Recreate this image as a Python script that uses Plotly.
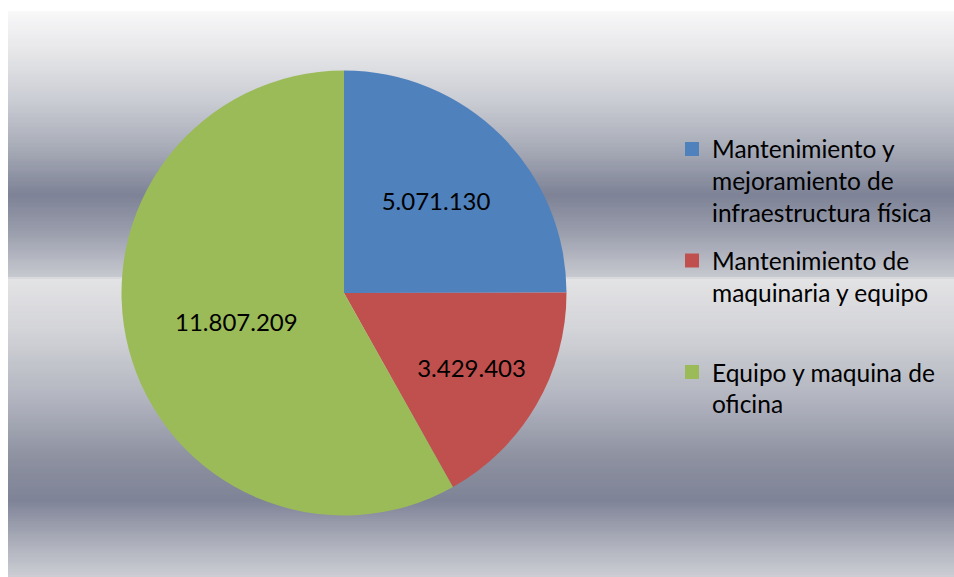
import plotly.graph_objects as go

# ---- data ----
categories = [
    "Mantenimiento y<br>mejoramiento de<br>infraestructura física",
    "Mantenimiento de<br>maquinaria y equipo<br> ",
    "Equipo y maquina de<br>oficina",
]
values = [5071130, 3429403, 11807209]
colors = ["#4f81bd", "#c0504d", "#9bbb59"]

W, H = 954, 577
FONT = "Lato"


def px(x):
    return x / W


def py(y):
    return 1 - y / H


# background gradient stops (pixel y, colour)
stops = [
    (11, (248, 248, 249)), (50, (231, 231, 234)), (100, (203, 205, 212)),
    (150, (166, 170, 182)), (195, (125, 130, 150)), (230, (152, 156, 171)),
    (276, (198, 200, 207)), (279, (227, 227, 229)), (330, (211, 212, 216)),
    (400, (177, 180, 191)), (460, (140, 144, 159)), (500, (126, 131, 151)),
    (540, (169, 172, 184)), (577, (205, 206, 212)),
]


def colour_at(y):
    for (y0, c0), (y1, c1) in zip(stops[:-1], stops[1:]):
        if y0 <= y <= y1:
            t = (y - y0) / (y1 - y0) if y1 > y0 else 0
            return "rgb(%d,%d,%d)" % tuple(round(a + (b - a) * t) for a, b in zip(c0, c1))
    return "rgb(%d,%d,%d)" % stops[-1][1]


shapes = []
step = 2
y = stops[0][0]
while y < H:
    shapes.append(dict(
        type="rect", xref="paper", yref="paper", layer="below",
        x0=px(8), x1=1.0, y0=py(min(y + step, H)), y1=py(y),
        fillcolor=colour_at(y + step / 2), line=dict(width=0),
    ))
    y += step

cx, cy, r = 344, 293, 222.5

fig = go.Figure()
fig.add_trace(go.Pie(
    labels=categories,
    values=values,
    marker=dict(colors=colors, line=dict(width=0)),
    sort=False,
    direction="clockwise",
    rotation=0,
    textinfo="value",
    texttemplate="%{value:,}",
    textposition="inside",
    insidetextorientation="horizontal",
    textfont=dict(family=FONT, size=24, color="black"),
    hoverinfo="label+value+percent",
    showlegend=False,
    domain=dict(x=[px(cx - r), px(cx + r)], y=[py(cy + r), py(cy - r)]),
))

# legend entries (one per slice, so that each can be spaced like the original)
for i, (lab, col) in enumerate(zip(categories, colors)):
    fig.add_trace(go.Scatter(
        x=[None], y=[None], mode="markers", name=lab,
        marker=dict(symbol="square", size=14, color=col),
        legendgroup="g%d" % i, showlegend=True, hoverinfo="skip",
    ))

fig.update_layout(
    width=W, height=H,
    margin=dict(l=0, r=0, t=0, b=0),
    paper_bgcolor="white",
    plot_bgcolor="rgba(0,0,0,0)",
    separators=",.",
    shapes=shapes,
    showlegend=True,
    xaxis=dict(visible=False),
    yaxis=dict(visible=False),
    legend=dict(
        x=px(712 - 40), y=py(126.5), xanchor="left", yanchor="top",
        bgcolor="rgba(0,0,0,0)",
        font=dict(family=FONT, size=24.5, color="black"),
        itemclick=False, itemdoubleclick=False,
        valign="top",
        tracegroupgap=13,
    ),
)

fig.write_html(
    "out.html",
    config={"displayModeBar": False},
    post_script="document.body.style.margin='0';document.body.style.overflow='hidden';",
)
